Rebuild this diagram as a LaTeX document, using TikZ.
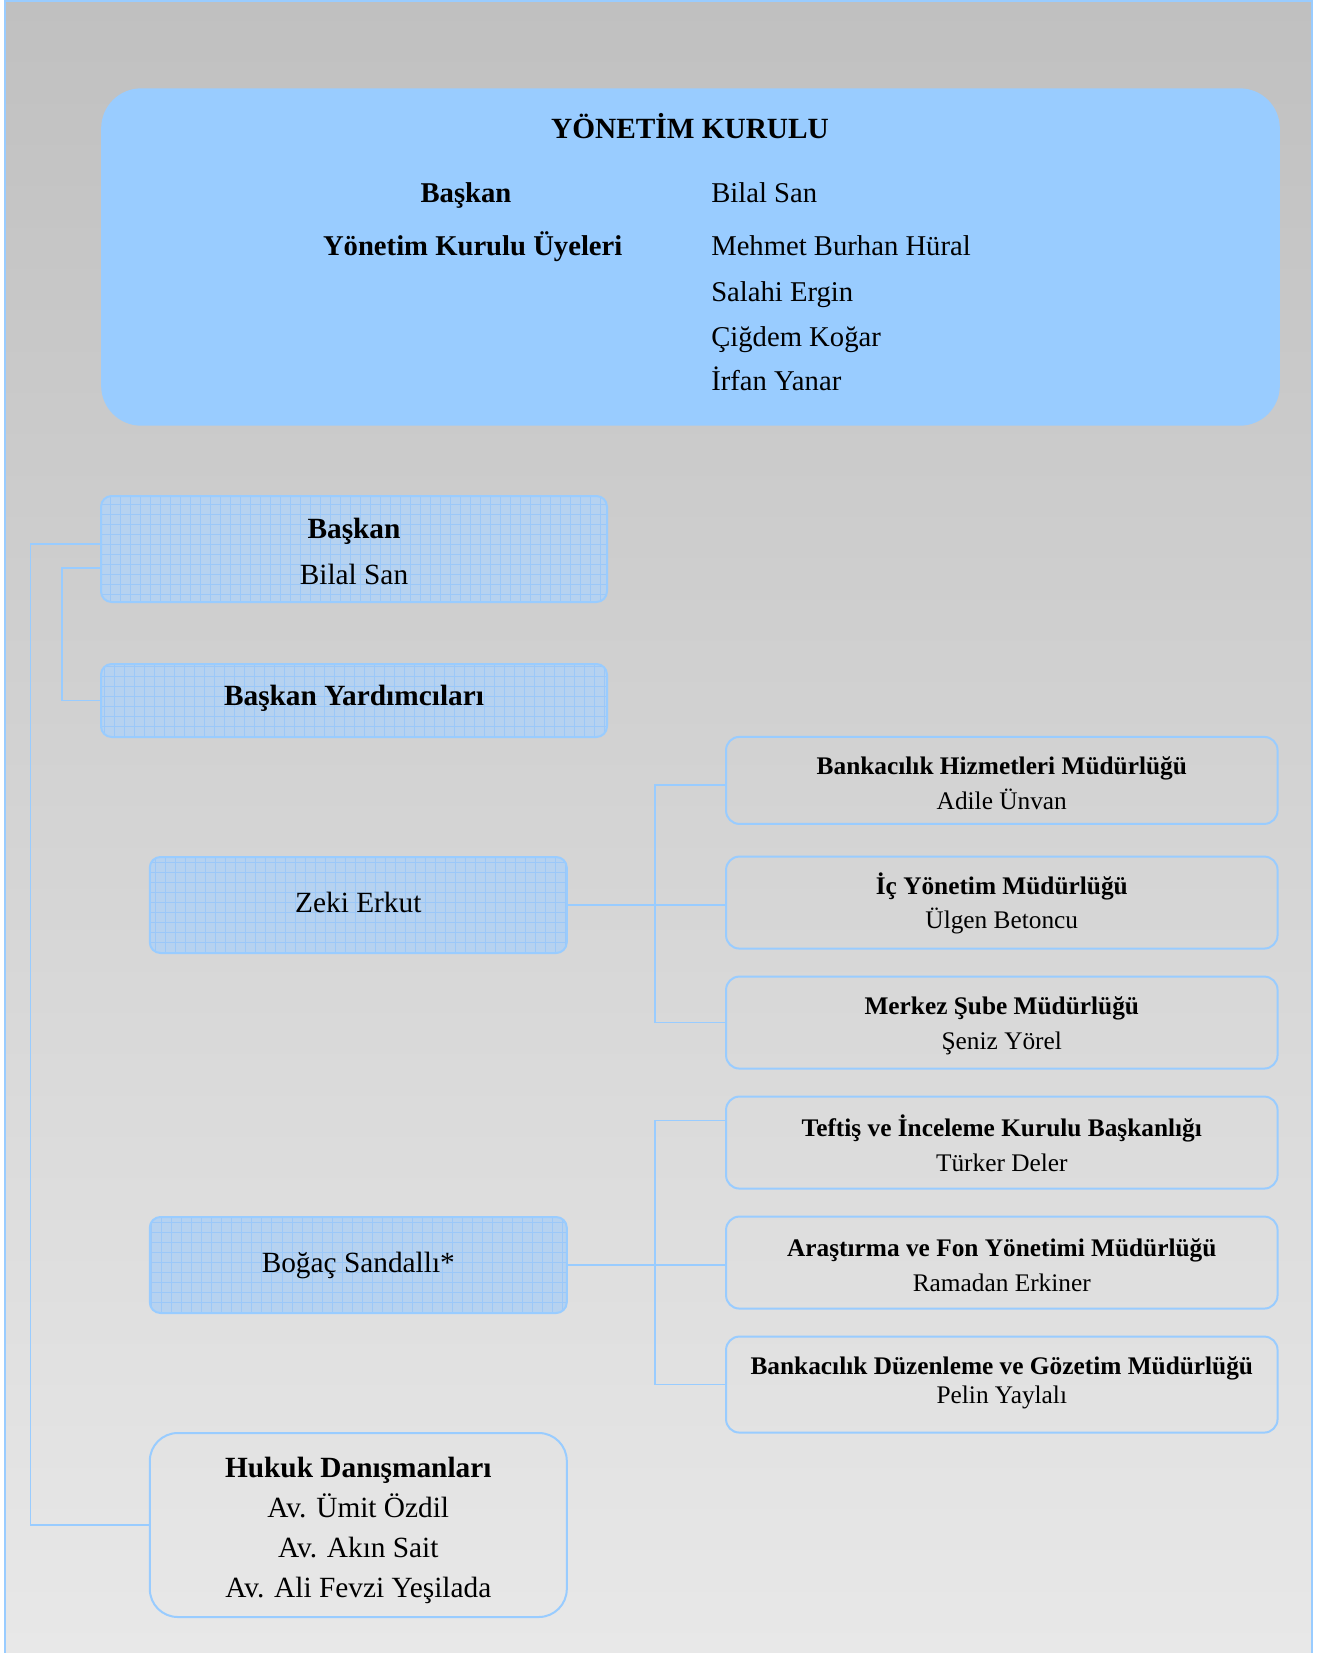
\documentclass[tikz,border=0pt]{standalone}
\usepackage{fontspec}
\setmainfont{Liberation Serif}
\usepackage{tikz}
\usetikzlibrary{positioning}

\definecolor{lightblue}{RGB}{153,204,255}
\definecolor{gridfill}{RGB}{182,210,240}
\definecolor{gridline}{RGB}{156,200,248}
\definecolor{bgtop}{RGB}{192,192,192}
\definecolor{bgbot}{RGB}{232,232,232}

% baslik + isim, ilk satira destek
\newcommand{\unit}[2]{\rule{0pt}{17.7pt}\textbf{#1}\\#2}

\tikzset{
  link/.style={draw=lightblue, line width=1.2pt},
  topbox/.style={fill=lightblue, rounded corners=30pt, minimum width=884pt, minimum height=253pt},
  toptext/.style={font=\fontsize{21.5}{26}\selectfont, inner sep=0pt},
  gridbox/.style={draw=lightblue, line width=1.5pt, rounded corners=8pt, fill=gridfill,
    align=center, inner sep=0pt, font=\fontsize{22}{34.5}\selectfont,
    path picture={\draw[gridline, line width=0.4pt, sharp corners]
      (path picture bounding box.south west) grid[step=7.5pt] (path picture bounding box.north east);}},
  oneline/.style={text height=15pt, text depth=4pt},
  unitbox/.style={draw=lightblue, line width=1.5pt, rounded corners=10pt, align=center,
    inner sep=0pt, minimum width=413.6pt, minimum height=69pt, font=\fontsize{19}{26}\selectfont},
  lawbox/.style={draw=lightblue, line width=1.5pt, rounded corners=21pt, align=center,
    inner sep=0pt, minimum width=312.75pt, minimum height=138pt, font=\fontsize{22}{30}\selectfont},
}

\begin{document}
\begin{tikzpicture}[x=0.75pt, y=-0.75pt]
\useasboundingbox (0,0) rectangle (1330,1653);
\shade[top color=bgtop, bottom color=bgbot] (5,0) rectangle (1312,1653);
\draw[lightblue, line width=1.2pt] (5,1653) -- (5,0.8) -- (1312,0.8) -- (1312,1653);

% yonetim kurulu
\node[topbox] (yk) at (690.5,257) {};
\node[toptext, anchor=base, font=\fontsize{22}{26}\selectfont] (baslik) at (690,138.5) {\bfseries YÖNETİM KURULU};
\node[toptext, anchor=base] (bsk) at (466,202.5) {\bfseries Başkan};
\node[toptext, anchor=base west] (u0) at (711,202.5) {Bilal San};
\node[toptext, anchor=base] (uye) at (472.7,255.5) {\bfseries Yönetim Kurulu Üyeleri};
\node[toptext, anchor=base west] (u1) at (711,255.5) {Mehmet Burhan Hüral};
\node[toptext, anchor=base west] (u2) at (711,301.5) {Salahi Ergin};
\node[toptext, anchor=base west] (u3) at (711,346.5) {Çiğdem Koğar};
\node[toptext, anchor=base west] (u4) at (711,390.5) {İrfan Yanar};

% sol sutun
\node[gridbox, minimum width=379.5pt, minimum height=79.5pt] (bk) at (354,549) {\rule{0pt}{19pt}\textbf{Başkan}\\Bilal San};
\node[gridbox, oneline, text depth=7pt, minimum width=379.5pt, minimum height=54.75pt] (yrd) at (354,700.5) {\textbf{Başkan Yardımcıları}};
\node[gridbox, oneline, minimum width=312.75pt, minimum height=72pt] (zeki) at (358.3,905) {Zeki Erkut};
\node[gridbox, oneline, minimum width=312.75pt, minimum height=72pt] (bogac) at (358.3,1265) {Boğaç Sandallı*};
\node[lawbox] (hukuk) at (358.3,1525) {\rule{0pt}{23pt}\textbf{Hukuk Danışmanları}\\Av. Ümit Özdil\\Av. Akın Sait\\Av. Ali Fevzi Yeşilada};

% mudurlukler
\node[unitbox, minimum height=65.25pt] (m1) at (1001.8,780.4) {\unit{Bankacılık Hizmetleri Müdürlüğü}{Adile Ünvan}};
\node[unitbox, below=23pt of m1] (m2) {\unit{İç Yönetim Müdürlüğü}{Ülgen Betoncu}};
\node[unitbox, below=19.5pt of m2] (m3) {\unit{Merkez Şube Müdürlüğü}{Şeniz Yörel}};
\node[unitbox, below=19.5pt of m3] (m4) {\unit{Teftiş ve İnceleme Kurulu Başkanlığı}{Türker Deler}};
\node[unitbox, below=19.5pt of m4] (m5) {\unit{Araştırma ve Fon Yönetimi Müdürlüğü}{Ramadan Erkiner}};
\node[unitbox, below=19.5pt of m5, minimum height=72pt] (m6) {\textbf{Bankacılık Düzenleme ve Gözetim Müdürlüğü}\\[-4.5pt]Pelin Yaylalı\rule[-7pt]{0pt}{7pt}};

\coordinate (t1) at (30.5,0);
\coordinate (t2) at (62,0);
\coordinate (t3) at (655,0);

\draw[link] ([yshift=3.75pt]bk.west) -| (t1 |- hukuk.west) -- (hukuk.west);
\draw[link] ([yshift=-14.25pt]bk.west) -| (t2 |- yrd.west) -- (yrd.west);
%
\draw[link] (zeki.east) -- (zeki.east -| m2.west);
\draw[link] ([yshift=-3.4pt]m1.west) -| (t3 |- m3.west) -- (m3.west);
\draw[link] (bogac.east) -- (bogac.east -| m5.west);
\draw[link] ([yshift=16.5pt]m4.west) -| (t3 |- m6.west) -- (m6.west);
\end{tikzpicture}
\end{document}
